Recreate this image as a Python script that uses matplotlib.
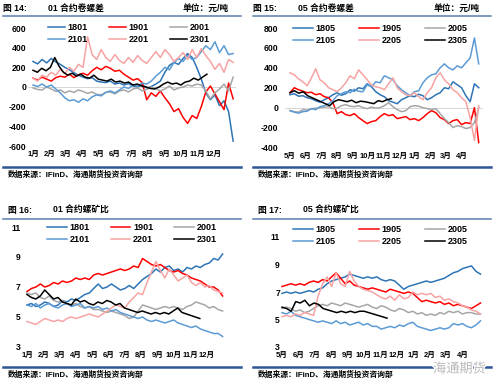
import numpy as np
import matplotlib
matplotlib.use('Agg')
import matplotlib.pyplot as plt
from matplotlib.lines import Line2D
import matplotlib.patheffects as pe

plt.rcParams['font.family'] = ['Liberation Sans', 'Noto Sans CJK SC', 'DejaVu Sans']

# ---------------- data ----------------
months_01 = ['1月', '2月', '3月', '4月', '5月', '6月', '7月', '8月', '9月', '10月', '11月', '12月']
months_05 = ['5月', '6月', '7月', '8月', '9月', '10月', '11月', '12月', '1月', '2月', '3月', '4月']

names_01 = ['1801', '1901', '2001', '2101', '2201', '2301']
names_05 = ['1805', '1905', '2005', '2105', '2205', '2305']

# span (in months from first tick) covered by each series
span_full_01 = 12.2
span_last_01 = 10.6
span_full_05 = 12.1
span_last_05 = 6.5
span_full_r01 = 12.0
span_last_r01 = 10.6
span_full_r05 = 12.1
span_last_r05 = 6.4

# 图14: 01合约卷螺差 (元/吨)
s14_1801 = [260, 235, 280, 245, 290, 255, 230, 200, 175, 145, 120, 100, 85, 95, 60, 50, 45, 60, 30, 40,
            20, 35, 10, 0, 25, -10, 5, 30, 60, 150, 220, 250, 230, 290, 340, 300, 200, 80, -60, -130,
            -80, -190, -140, -250, -550]
s14_1901 = [90, 70, 100, 80, 60, 95, 110, 100, 130, 95, 125, 140, 120, 165, 200, 175, 210, 190, 160, 170,
            130, 100, 70, 85, 45, -130, -60, -95, -40, -110, -170, -250, -220, -310, -370, -290, -320,
            -200, -50, 10, -70, -150, -230, 40, -120]
s14_2001 = [-10, -25, -30, 0, -20, -45, -30, -60, -40, -55, -30, -45, -65, -50, -75, -80, -55, -50, -70,
            -40, -30, -50, -20, -10, -40, -25, 0, -15, -40, -20, 10, -30, -10, 0, 20, 10, 30, 20, -40,
            -120, -60, -20, 30, -40, 100]
s14_2101 = [20, 5, 30, 0, 20, -20, -60, -110, -140, -130, -155, -120, -140, -100, -80, -90, -55, -40, -60,
            -30, 0, -15, 20, 10, 40, 30, 60, 110, 150, 200, 175, 250, 290, 260, 320, 280, 300, 360, 420,
            380, 460, 350, 420, 330, 340]
s14_2201 = [90, 60, 120, 100, 150, 120, 180, 135, 200, 160, 230, 200, 510, 330, 280, 380, 300, 260, 330,
            270, 240, 300, 250, 320, 270, 240, 300, 360, 300, 380, 330, 260, 300, 350, 280, 380, 300,
            390, 320, 260, 180, 240, 150, 280, 250]
s14_2301 = [170, 150, 190, 165, 200, 300, 210, 150, 120, 140, 110, 130, 100, 90, 120, 80, 70, 60, 80, 50,
            60, 40, 50, 20, 30, 10, 0, -15, -20, 0, 30, 50, 30, 40, 20, 50, 60, 90, 70, 100, 130]

# 图15: 05合约卷螺差 (元/吨)
s15_1805 = [130, 140, 115, 120, 100, 90, 70, 55, 80, 100, 130, 150, 125, 140, 180, 165, 200, 190, 240,
            210, 160, 130, 110, 70, 55, 40, 80, 100, 120, 110, 135, 120, 80, 100, 130, 150, 200, 190,
            260, 230, 200, 120, 60, 240, 200]
s15_1905 = [150, 200, 180, 165, 150, 155, 130, 140, 110, 100, 50, -60, -40, -70, -80, -60, -100, -130,
            -160, -140, -130, -90, -60, -80, -70, -110, -100, -90, -120, -110, -130, -100, -60, -30, -50,
            -100, -120, -160, -130, -120, -170, -150, -160, 0, -350]
s15_2005 = [-30, -40, -45, -20, -25, -10, -5, 0, 5, 10, -10, -5, 20, 30, 15, 10, 20, 0, -10, 5, -5, 0,
            20, 50, 10, -20, -40, -30, 10, 20, 15, 0, -10, -20, -10, -60, -110, -150, -200, -180, -190,
            -210, -200, -150, 0]
s15_2105 = [-30, -45, -55, -40, -35, -10, -20, 10, 20, 40, 70, 120, 140, 160, 150, 185, 165, 160, 230,
            210, 260, 250, 320, 300, 280, 220, 180, 150, 120, 160, 170, 250, 300, 330, 340, 400, 440, 400,
            380, 420, 400, 450, 500, 700, 440]
s15_2205 = [350, 330, 290, 260, 220, 300, 390, 280, 250, 200, 180, 160, 200, 250, 320, 290, 380, 330, 280,
            230, 210, 200, 180, 240, 300, 200, 160, 130, 120, 150, 110, 80, 150, 200, 300, 350, 280, 240,
            180, 150, 100, 60, -100, -330, 20]
s15_2305 = [150, 170, 145, 160, 120, 100, 80, 60, 40, 20, 60, 80, 70, 60, 75, 50, 65, 60, 50, 40, 70, 60,
            80, 90]

# 图16: 01合约螺矿比
s16_1801 = [5.8, 5.9, 5.7, 5.8, 6.0, 5.9, 5.7, 5.8, 6.1, 6.0, 6.2, 6.1, 6.3, 6.5, 6.6, 6.9, 7.2, 6.9, 7.0,
            7.2, 7.0, 6.8, 6.9, 7.1, 6.9, 7.2, 7.5, 7.7, 7.9, 8.2, 8.0, 8.3, 8.4, 8.1, 8.2, 8.0, 8.3, 8.2,
            8.4, 8.3, 8.5, 8.6, 8.9, 8.8, 9.2]
s16_1901 = [6.7, 6.9, 7.0, 7.2, 7.0, 7.1, 7.3, 7.2, 7.4, 7.3, 7.4, 7.6, 7.5, 7.6, 7.5, 7.8, 7.9, 7.8, 7.9,
            8.0, 8.1, 8.2, 8.1, 8.2, 8.4, 8.3, 8.9, 8.7, 8.5, 8.4, 8.5, 8.3, 8.1, 8.0, 8.1, 7.9, 7.8, 7.6,
            7.5, 7.4, 7.2, 7.0, 7.0, 6.8, 6.4]
s16_2001 = [6.6, 6.5, 6.6, 6.3, 6.2, 6.4, 6.1, 6.0, 6.1, 5.9, 5.8, 5.9, 5.7, 5.6, 5.7, 5.5, 5.5, 5.4, 5.3,
            5.4, 5.3, 5.2, 5.1, 4.9, 5.0, 5.4, 5.8, 5.7, 5.6, 5.5, 5.6, 5.7, 5.6, 5.7, 5.6, 5.5, 5.7, 5.8,
            6.0, 5.9, 5.8, 5.6, 5.7, 5.5, 5.4]
s16_2101 = [5.8, 5.7, 5.9, 5.6, 5.8, 5.9, 5.7, 5.6, 5.8, 5.9, 5.7, 5.8, 5.9, 5.6, 5.7, 5.6, 5.7, 5.5, 5.6,
            5.4, 5.5, 5.3, 5.2, 5.1, 5.0, 4.9, 5.0, 4.8, 4.7, 4.8, 4.7, 4.6, 4.7, 4.8, 4.6, 4.5, 4.4, 4.3,
            4.4, 4.2, 4.1, 4.0, 3.9, 3.9, 3.7]
s16_2201 = [4.7, 4.6, 4.5, 4.7, 4.9, 4.8, 4.7, 4.8, 4.7, 4.9, 5.0, 4.9, 5.0, 5.1, 5.2, 5.1, 5.0, 5.2, 5.4,
            5.6, 5.8, 5.7, 5.6, 6.0, 6.3, 6.6, 6.5, 7.3, 8.0, 8.7, 8.1, 7.6, 8.2, 7.8, 7.4, 7.6, 7.8, 7.3,
            7.1, 7.3, 7.0, 7.1, 6.8, 6.7, 6.6]
s16_2301 = [6.5, 6.3, 6.2, 6.4, 6.8, 6.5, 6.2, 6.3, 6.0, 5.9, 5.8, 6.2, 6.0, 6.1, 5.9, 5.8, 6.0, 5.9, 6.1,
            6.0, 5.8, 5.9, 5.6, 5.5, 5.4, 5.3, 5.4, 5.3, 5.2, 5.3, 5.2, 5.3, 5.2, 5.4, 5.6, 5.3, 5.2, 5.1,
            5.0, 4.9]

# 图17: 05合约螺矿比
s17_1805 = [6.9, 7.0, 6.9, 7.0, 6.9, 7.0, 7.1, 7.0, 7.2, 7.3, 7.6, 7.8, 7.9, 8.0, 8.1, 8.3, 8.2, 8.1, 8.0,
            8.1, 8.0, 8.1, 7.9, 7.8, 7.9, 7.8, 7.5, 7.2, 7.4, 7.5, 7.6, 7.7, 7.8, 7.7, 7.8, 7.9, 8.0, 8.2,
            8.4, 8.5, 8.7, 8.8, 8.9, 8.5, 8.3]
s17_1905 = [7.4, 7.5, 7.6, 7.5, 7.6, 7.5, 7.7, 7.8, 7.7, 7.9, 7.8, 8.1, 8.4, 8.0, 7.6, 7.8, 7.5, 7.4, 7.3,
            7.2, 7.3, 7.2, 7.1, 7.0, 7.2, 7.1, 7.0, 6.9, 7.0, 6.9, 6.6, 6.3, 6.4, 6.3, 6.2, 6.3, 6.1, 6.2,
            6.0, 6.1, 6.0, 5.9, 5.8, 6.0, 6.2]
s17_2005 = [5.8, 5.9, 5.8, 5.6, 5.7, 5.5, 5.6, 5.8, 6.0, 6.1, 6.0, 6.2, 6.1, 6.0, 6.2, 6.1, 6.0, 5.9, 6.0,
            6.1, 5.9, 5.8, 6.0, 5.9, 5.7, 5.6, 5.8, 5.7, 5.5, 5.6, 5.4, 5.5, 5.3, 5.4, 5.3, 5.5, 5.4, 5.6,
            5.5, 5.6, 5.4, 5.5, 5.5, 5.4, 5.4]
s17_2105 = [5.5, 5.4, 5.6, 5.3, 5.2, 5.1, 5.0, 4.9, 4.8, 4.9, 4.8, 4.7, 4.9, 4.7, 4.8, 4.6, 4.7, 4.8, 4.6,
            4.7, 4.5, 4.5, 4.3, 4.4, 4.5, 4.4, 4.6, 4.5, 4.7, 4.8, 4.5, 4.4, 4.3, 4.2, 4.3, 4.4, 4.3, 4.4,
            4.7, 4.6, 4.7, 4.5, 4.4, 4.6, 4.9]
s17_2205 = [5.2, 5.3, 5.2, 5.4, 5.3, 5.5, 5.4, 5.3, 6.7, 7.6, 8.1, 7.4, 8.4, 7.6, 7.4, 8.5, 7.8, 7.4, 7.2,
            7.1, 7.0, 6.8, 6.6, 6.5, 6.7, 6.4, 6.8, 6.5, 6.6, 7.0, 6.8, 6.9, 6.8, 6.9, 6.6, 6.7, 6.4, 6.5,
            6.3, 6.2, 6.0, 5.9, 5.7, 5.6, 5.4]
s17_2305 = [5.9, 5.8, 5.6, 6.3, 6.2, 6.4, 6.0, 6.2, 6.1, 5.8, 5.7, 5.6, 5.5, 5.6, 5.5, 5.6, 5.5, 5.6, 5.6,
            5.5, 5.4, 5.3, 5.2, 5.1]

colors = ['#2E75B6', '#FF0000', '#A6A6A6', '#5B9BD5', '#F7A3A3', '#000000']

# ---------------- figure ----------------
W, H = 500, 390
fig = plt.figure(figsize=(5, 3.9), dpi=100)


def fx(px):
    return px / W


def fy(py):
    return 1 - py / H


def add_axes(left, right, top, bottom):
    return fig.add_axes([fx(left), fy(bottom), fx(right) - fx(left), fy(top) - fy(bottom)])


def panel(ax, series, spans, names, xlabels, ylim, yticks, xlim, zero_line, ypad,
          leg_x, leg_y, leg_hl, leg_cs):
    if zero_line:
        ax.axhline(0, color='#D0D0D0', lw=0.6, zorder=0)
    handles = []
    for vals, span, c, n in zip(series, spans, colors, names):
        x = np.linspace(0, span, len(vals))
        h, = ax.plot(x, vals, color=c, lw=1.1, label=n)
        handles.append(h)
    ax.set_xlim(*xlim)
    ax.set_ylim(*ylim)
    ax.set_xticks(range(len(xlabels)))
    ax.set_xticklabels(xlabels)
    ax.set_yticks(yticks)
    ax.set_yticklabels([str(t) for t in yticks])
    ax.tick_params(axis='x', length=0, labelsize=5.5, pad=3.8)
    ax.tick_params(axis='y', length=0, labelsize=6.2, pad=ypad)
    for lbl in ax.get_xticklabels() + ax.get_yticklabels():
        lbl.set_fontweight('bold')
    for s in ax.spines.values():
        s.set_visible(False)
    ax.patch.set_alpha(0)
    # legend order: row-major 3 columns -> matplotlib fills column-major
    order = [0, 3, 1, 4, 2, 5]
    leg = ax.legend([handles[i] for i in order], [names[i] for i in order], ncol=3,
                    loc='upper left', bbox_to_anchor=(fx(leg_x), fy(leg_y)),
                    bbox_transform=fig.transFigure, frameon=False,
                    prop={'size': 6.5, 'weight': 'bold'}, handlelength=leg_hl,
                    handletextpad=0.3, columnspacing=leg_cs, labelspacing=0.35,
                    borderpad=0, borderaxespad=0)
    return leg


ax1 = add_axes(28.1, 236.4, 28, 146)
panel(ax1, [s14_1801, s14_1901, s14_2001, s14_2101, s14_2201, s14_2301],
      [span_full_01] * 5 + [span_last_01], names_01, months_01,
      (-600, 600), [-600, -400, -200, 0, 200, 400, 600], (-0.3, 12.4), True, 1.5,
      48, 23, 1.9, 2.3)

ax2 = add_axes(285.3, 483.4, 28, 147.5)
panel(ax2, [s15_1805, s15_1905, s15_2005, s15_2105, s15_2205, s15_2305],
      [span_full_05] * 5 + [span_last_05], names_05, months_05,
      (-400, 800), [-400, -200, 0, 200, 400, 600, 800], (-0.3, 12.4), True, 5,
      293, 24, 2.2, 2.6)

ax3 = add_axes(22.1, 227.5, 227, 347)
panel(ax3, [s16_1801, s16_1901, s16_2001, s16_2101, s16_2201, s16_2301],
      [span_full_r01] * 5 + [span_last_r01], names_01, months_01,
      (3, 11), [3, 5, 7, 9, 11], (-0.3, 12.3), False, 1,
      47, 223, 2.2, 2.3)

ax4 = add_axes(277.1, 485.4, 237, 347)
panel(ax4, [s17_1805, s17_1905, s17_2005, s17_2105, s17_2205, s17_2305],
      [span_full_r05] * 5 + [span_last_r05], names_05, months_05,
      (3, 11), [3, 5, 7, 9, 11], (-0.3, 12.4), False, -2,
      293, 225, 2.2, 2.6)

# ---------------- titles / frames ----------------
title_kw = dict(fontsize=6.3, fontweight='bold', va='center', color='#000000')
top_line_c = '#5A7DB0'
bot_line_c = '#2F5597'


def header(x0, y, fig_no, title, unit=None, unit_right=None):
    fig.text(fx(x0), fy(y), '图 ' + fig_no + ':', ha='left', **title_kw)
    fig.text(fx(x0 + 45), fy(y), title, ha='left', **title_kw)
    if unit:
        fig.text(fx(unit_right), fy(y), unit, ha='right', **title_kw)


def hline(x0, x1, y, c, lw):
    fig.add_artist(Line2D([fx(x0), fx(x1)], [fy(y), fy(y)], color=c, lw=lw))


header(3, 8, '14', '01 合约卷螺差', '单位：元/吨', 229)
header(253, 8, '15', '05 合约卷螺差', '单位：元/吨', 480)
header(8, 210, '16', '01 合约螺矿比')
header(258, 210, '17', '05 合约螺矿比')

hline(3, 241, 16, top_line_c, 1.1)
hline(253, 491, 16, top_line_c, 1.1)
hline(3, 241, 219, top_line_c, 1.1)
hline(253, 491, 219, top_line_c, 1.1)

hline(3, 241, 167, bot_line_c, 1.8)
hline(253, 491, 167, bot_line_c, 1.8)
hline(3, 241, 367, bot_line_c, 1.8)
hline(253, 491, 367, bot_line_c, 1.8)

src = '数据来源：IFinD、海通期货投资咨询部'
src_kw = dict(fontsize=5.6, fontweight='bold', va='center', ha='left', color='#000000')
fig.text(fx(8), fy(175), src, **src_kw)
fig.text(fx(258), fy(175), src, **src_kw)
fig.text(fx(8), fy(375), src, **src_kw)
fig.text(fx(258), fy(375), src, **src_kw)

wm = fig.text(fx(433), fy(369), '海通期货', fontsize=9.5, ha='left', va='center',
              color='#B8B8B8', family=['Noto Sans CJK SC'])
wm.set_path_effects([pe.withStroke(linewidth=2, foreground='white')])

fig.savefig('out.png', dpi=100)
